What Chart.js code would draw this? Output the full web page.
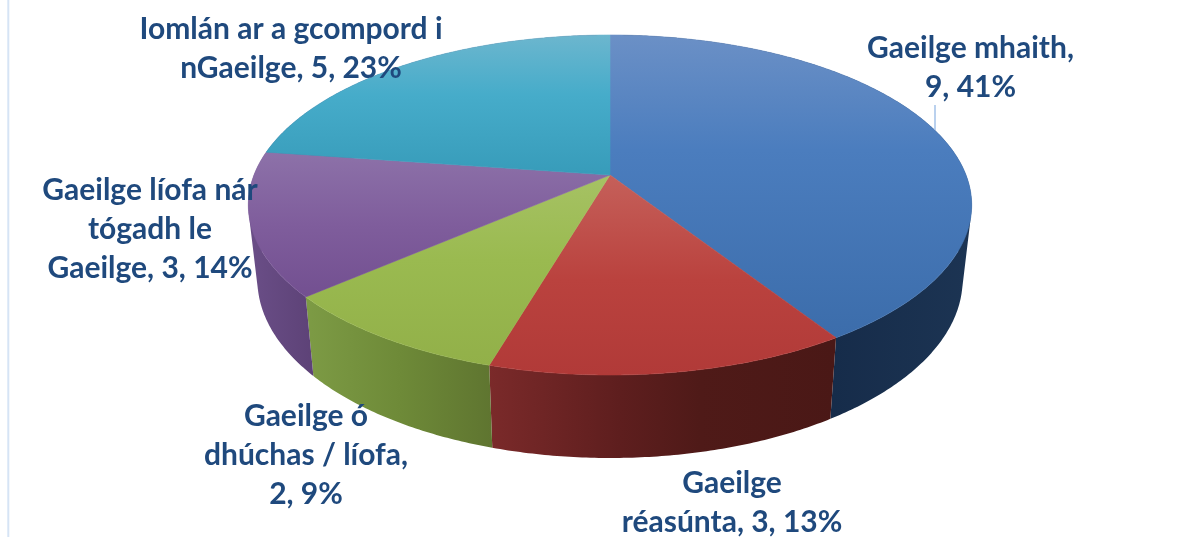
<!DOCTYPE html>
<html>
<head>
<meta charset="utf-8">
<style>
  html, body { margin: 0; padding: 0; background: #fff; }
  canvas { display: block; }
</style>
<script src="https://cdn.jsdelivr.net/npm/chart.js@4"></script>
</head>
<body>
<canvas id="grafica" width="1198" height="537"></canvas>
<script>
const categories = ["Gaeilge mhaith", "Gaeilge réasúnta", "Gaeilge ó dhúchas / líofa", "Gaeilge líofa nár tógadh le Gaeilge", "Iomlán ar a gcompord i nGaeilge"];
const values = [9, 3, 2, 3, 5];
const labelLines = [
  ["Gaeilge mhaith,", "9, 41%"],
  ["Gaeilge", "réasúnta, 3, 13%"],
  ["Gaeilge ó", "dhúchas / líofa,", "2, 9%"],
  ["Gaeilge líofa nár", "tógadh le", "Gaeilge, 3, 14%"],
  ["Iomlán ar a gcompord i", "nGaeilge, 5, 23%"]
];

// where each label block sits: centre x, first baseline
const labelPos = [[970.5, 57.5], [732, 493], [306, 425.5], [150, 199.5], [291, 38.5]];
const lineHeight = 39;

// top face gradient, vertical [y0, colour0, y1, colour1, ...]
const topColors = [
  [35, "#6b90c6", 150, "#4b7dbe", 335, "#3c6dab"],
  [175, "#c5605a", 280, "#ba423e", 375, "#b13a38"],
  [175, "#a6c264", 260, "#9aba50", 365, "#92b049"],
  [150, "#8d72a9", 225, "#7f5d9c", 300, "#724f90"],
  [35, "#6cb6ce", 95, "#46acca", 178, "#379bb9"]
];
// side wall gradient, horizontal [x0, colour0, x1, colour1, ...]
const wallColors = [
  [833, "#162c4a", 972, "#1c3453"],
  [488, "#7b2a2a", 620, "#5e1e1e", 700, "#4f1a18", 835, "#4a1816"],
  [305, "#7d9b45", 400, "#6e8a38", 492, "#5f7530"],
  [250, "#6a4e87", 313, "#5d4277"],
  [250, "#5d4277", 610, "#5d4277"]
];

// perspective of the disc
const apexX = 610, apexY = 175;
const radX = 356, radY = 164.7, tilt = 0.1765;

function topPoint(theta) {
  const u = Math.sin(theta), v = -Math.cos(theta);
  const w = 1 - tilt * v;
  return [apexX + radX * u / w, apexY + radY * v / w];
}

function bottomPoint(theta) {
  const p = topPoint(theta);
  return [apexX + (p[0] - apexX) * 0.975, apexY + (p[1] - apexY) * 1.05 + 73];
}

function arcSteps(a0, a1) {
  const out = [];
  const n = Math.ceil((a1 - a0) / 0.01);
  for (let i = 0; i <= n; i++) out.push(a0 + (a1 - a0) * i / n);
  return out;
}

function gradientFrom(ctx, c, horizontal) {
  const first = c[0], last = c[c.length - 2];
  const g = horizontal
    ? ctx.createLinearGradient(first, 0, last, 0)
    : ctx.createLinearGradient(0, first, 0, last);
  for (let i = 0; i < c.length; i += 2) {
    g.addColorStop((c[i] - first) / (last - first), c[i + 1]);
  }
  return g;
}

// signed area, quads must all wind the same way or overlaps cancel out
function quadArea(q) {
  let sum = 0;
  for (let i = 0; i < 4; i++) {
    const a = q[i], b = q[(i + 1) % 4];
    sum += a[0] * b[1] - b[0] * a[1];
  }
  return sum;
}

const pie3d = {
  id: "pie3d",
  beforeDatasetDraw(chart) {
    const ctx = chart.ctx;
    const arcs = chart.getDatasetMeta(0).data;
    // chart.js angles start at -PI/2 with rotation 0, ours start at the top
    const slices = arcs.map((a, i) => ({
      i,
      a0: a.startAngle + Math.PI / 2,
      a1: a.endAngle + Math.PI / 2
    }));

    ctx.save();

    // walls, one quad per step so the silhouette joins top and bottom rims
    slices.forEach(s => {
      const steps = arcSteps(s.a0, s.a1);
      ctx.beginPath();
      for (let k = 0; k < steps.length - 1; k++) {
        const q = [topPoint(steps[k]), topPoint(steps[k + 1]), bottomPoint(steps[k + 1]), bottomPoint(steps[k])];
        if (quadArea(q) < 0) q.reverse();
        ctx.moveTo(q[0][0], q[0][1]);
        ctx.lineTo(q[1][0], q[1][1]);
        ctx.lineTo(q[2][0], q[2][1]);
        ctx.lineTo(q[3][0], q[3][1]);
        ctx.closePath();
      }
      ctx.fillStyle = gradientFrom(ctx, wallColors[s.i], true);
      ctx.fill();
    });

    // top faces
    slices.forEach(s => {
      ctx.beginPath();
      ctx.moveTo(apexX, apexY);
      arcSteps(s.a0, s.a1).forEach(t => {
        const p = topPoint(t);
        ctx.lineTo(p[0], p[1]);
      });
      ctx.closePath();
      const g = gradientFrom(ctx, topColors[s.i], false);
      ctx.fillStyle = g;
      ctx.strokeStyle = g;
      ctx.lineWidth = 0.6;
      ctx.fill();
      ctx.stroke();
    });

    ctx.restore();
    return false;
  },
  afterDatasetsDraw(chart) {
    const ctx = chart.ctx;
    ctx.save();

    // thin rule down the left edge
    ctx.fillStyle = "#d6e4f5";
    ctx.fillRect(7.3, 0, 2, chart.height);

    // leader line
    ctx.strokeStyle = "#a3c2e8";
    ctx.lineWidth = 1.5;
    ctx.beginPath();
    ctx.moveTo(935, 105);
    ctx.lineTo(935, 130);
    ctx.stroke();

    ctx.fillStyle = "#1f497d";
    ctx.font = "700 30px Lato";
    ctx.textAlign = "center";
    ctx.textBaseline = "alphabetic";
    labelLines.forEach((lines, i) => {
      lines.forEach((line, k) => {
        ctx.fillText(line, labelPos[i][0], labelPos[i][1] + k * lineHeight);
      });
    });
    ctx.restore();
  }
};

new Chart(document.getElementById("grafica").getContext("2d"), {
  type: "pie",
  data: {
    labels: categories,
    datasets: [{ data: values, borderWidth: 0 }]
  },
  options: {
    responsive: false,
    animation: false,
    plugins: { legend: { display: false }, tooltip: { enabled: false } }
  },
  plugins: [pie3d]
});
</script>
</body>
</html>
